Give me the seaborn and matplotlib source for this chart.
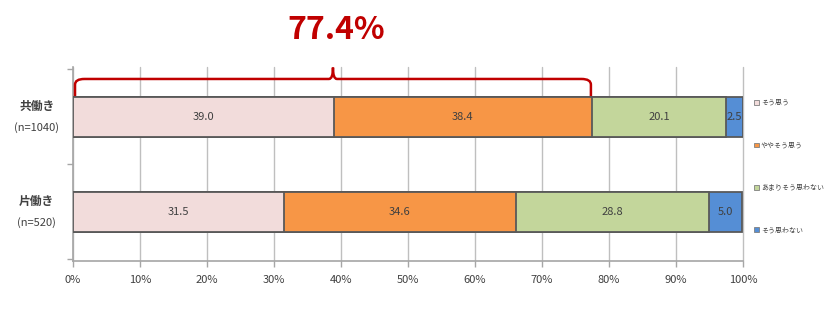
import matplotlib
matplotlib.use("Agg")
import matplotlib.pyplot as plt
import seaborn as sns
import numpy as np
import pandas as pd
from matplotlib.path import Path
from matplotlib.patches import PathPatch, Patch

sns.set_theme(style="white")
plt.rcParams['font.family'] = ['Noto Sans CJK JP', 'DejaVu Sans']

categories = ["共働き\n(n=1040)", "片働き\n(n=520)"]
series = ["そう思う", "ややそう思う", "あまりそう思わない", "そう思わない"]
v_sou = [39.0, 31.5]
v_yaya = [38.4, 34.6]
v_amari = [20.1, 28.8]
v_omowanai = [2.5, 5.0]
colors = ["#F2DCDB", "#F79646", "#C3D69B", "#558ED5"]
highlight = "77.4%"

values = [v_sou, v_yaya, v_amari, v_omowanai]
cum = np.cumsum(np.array(values), axis=0)

fig = plt.figure(figsize=(8.4, 3.18), dpi=100)
ax = fig.add_axes([73/840, 1-261/318, 670/840, 194/318])

edge = "#595959"
# draw cumulative from the largest down so each segment shows
for i in reversed(range(len(series))):
    df = pd.DataFrame({"y": categories, "x": cum[i]})
    sns.barplot(data=df, x="x", y="y", orient="h", color=colors[i],
                saturation=1, width=0.43, edgecolor=edge, linewidth=1.3,
                ax=ax, zorder=3)

# segment labels
for i in range(len(series)):
    for j in range(len(categories)):
        start = cum[i][j] - values[i][j]
        ax.text(start + values[i][j]/2, j, f"{values[i][j]:.1f}", ha="center",
                va="center", fontsize=8, color="#404040", zorder=5)

ax.set_xlim(0, 100)
ax.set_ylim(1.516, -0.526)
ax.set_xticks(np.arange(0, 101, 10))
ax.set_xticklabels([f"{t}%" for t in range(0, 101, 10)], fontsize=8, color="#404040")
ax.set_yticks([0, 1])
ax.set_yticklabels([])
ax.set_yticks([-0.5, 0.5, 1.5], minor=True)
ax.tick_params(axis="y", which="major", length=0)
ax.tick_params(axis="y", which="minor", length=4, color="#A6A6A6", width=1, direction="out", left=True)
ax.tick_params(axis="x", length=4, color="#A6A6A6", width=1, direction="out", bottom=True, pad=6)
ax.set_xlabel("")
ax.set_ylabel("")
ax.grid(axis="x", color="#BFBFBF", linewidth=1, zorder=0)
for gl in ax.get_xgridlines():
    gl.set_clip_on(False)
ax.set_axisbelow(True)
for s in ["top", "right"]:
    ax.spines[s].set_visible(False)
for s in ["left", "bottom"]:
    ax.spines[s].set_color("#A6A6A6")
    ax.spines[s].set_linewidth(1.2)

# category labels
for j, c in enumerate(categories):
    name, n = c.split("\n")
    ax.text(-5.4, j - 0.11, name, ha="center", va="center", fontsize=8.5,
            fontweight="bold", color="#404040", transform=ax.transData, clip_on=False)
    ax.text(-5.4, j + 0.11, n, ha="center", va="center", fontsize=8,
            color="#404040", transform=ax.transData, clip_on=False)

# brace
x0, x1 = 0.3, 77.3
xm = (x0 + x1) / 2
yb, yh, yp = -0.22, -0.40, -0.52
r = 1.4
verts = [(x0, yb), (x0, yh + 0.06), (x0, yh), (x0 + r, yh),
         (xm - 0.6, yh), (xm, yh), (xm, yp), (xm, yh), (xm + 0.6, yh),
         (x1 - r, yh), (x1, yh), (x1, yh + 0.06), (x1, yb)]
codes = [Path.MOVETO, Path.LINETO, Path.CURVE3, Path.CURVE3,
         Path.LINETO, Path.CURVE3, Path.CURVE3, Path.CURVE3, Path.CURVE3,
         Path.LINETO, Path.CURVE3, Path.CURVE3, Path.LINETO]
ax.add_patch(PathPatch(Path(verts, codes), fill=False, edgecolor="#C00000",
                       linewidth=1.8, clip_on=False, zorder=6))
fig.text(336/840, 1 - 30/318, highlight, ha="center", va="center", fontsize=23,
         fontweight="bold", color="#C00000")

handles = [Patch(facecolor=colors[i], edgecolor="#7F7F7F", linewidth=0.6, label=series[i])
           for i in range(len(series))]
fig.legend(handles=handles, loc="upper left", bbox_to_anchor=(754/840, 1 - 99/318),
           frameon=False, fontsize=5, handlelength=0.7, handleheight=0.7,
           handletextpad=0.3, labelspacing=4.95, borderaxespad=0, borderpad=0,
           labelcolor="#404040")

fig.savefig("out.png", dpi=100)
